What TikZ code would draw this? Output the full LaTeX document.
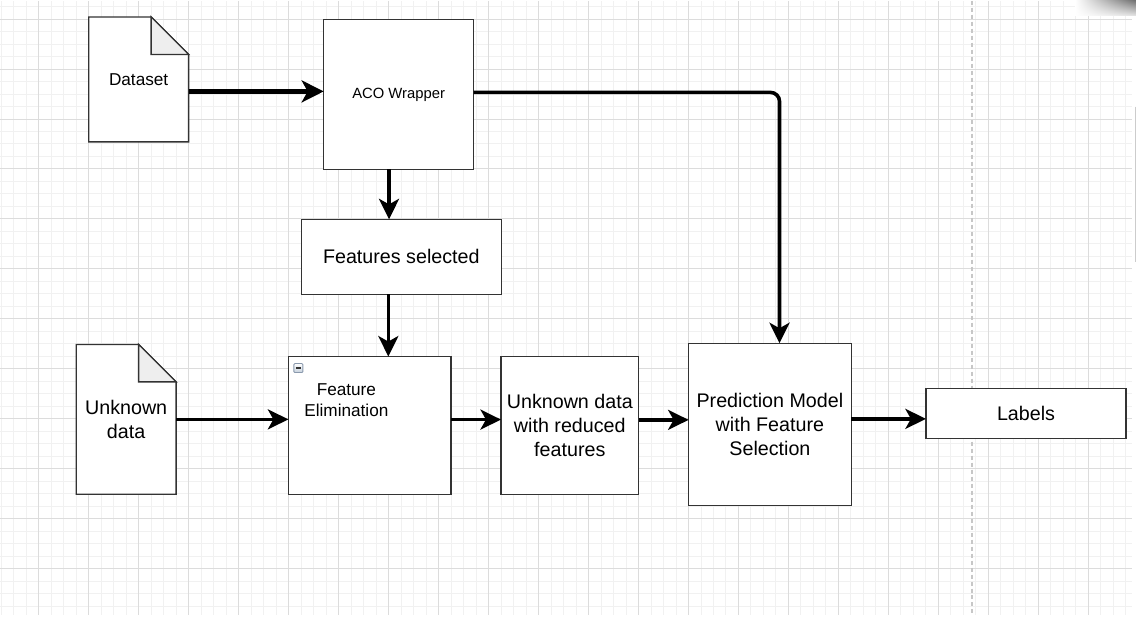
\documentclass[tikz,border=0pt]{standalone}
\usepackage{fontspec}
\setmainfont{Liberation Sans}
\usetikzlibrary{arrows.meta, positioning, backgrounds, shadings}
\definecolor{gridmajor}{HTML}{DCDCDC}
\definecolor{gridminor}{HTML}{F1F1F1}
\definecolor{boxline}{HTML}{333333}
\definecolor{foldgray}{HTML}{EEEEEE}
\definecolor{iconedge}{HTML}{8A99AD}
\definecolor{iconblue}{HTML}{C5D0DC}

\begin{document}
\begin{tikzpicture}[
            x = 1pt, y = -1pt, % pixel units, y grows downwards
            > = {Stealth[length=20.5pt, width=20pt, inset=5.5pt]}, % arrow head style
            shorten > = 0pt, % arrow head touches the box
            node distance = 50pt, % distance between boxes
            font = \fontsize{19.7}{23.7}\selectfont
        ]

        \tikzstyle{box}=[
            draw = boxline,
            line width = 1.3pt,
            fill = white,
            inner sep = 0pt,
            outer sep = 0pt,
            align = center
        ]
        \tikzstyle{doc}=[inner sep = 0pt, outer sep = 0pt, align = center]
        \tikzstyle{docline}=[draw = boxline, line width = 1.3pt, fill = white, line join = miter]
        \tikzstyle{flow}=[->, line width = 3.6pt]
        \tikzstyle{elimbtn}=[
            draw = iconedge,
            line width = 0.9pt,
            rounded corners = 1pt,
            minimum size = 9pt,
            inner sep = 0pt,
            top color = white,
            bottom color = iconblue,
            path picture = {\draw[line width=1.6pt, black!80]
                ([xshift=-2.6pt]path picture bounding box.center) --
                ([xshift=2.6pt]path picture bounding box.center);}
        ]

        % canvas grid
        \begin{scope}[on background layer]
            \fill[white] (0,0) rectangle (1136,615);
            \foreach \gx in {0.8, 13.3, ..., 1132} \draw[gridminor, line width=1pt] (\gx,0) -- (\gx,615);
            \foreach \gy in {5.8, 18.3, ..., 615} \draw[gridminor, line width=1pt] (0,\gy) -- (1132,\gy);
            \foreach \gx in {38.3, 88.3, ..., 1132} \draw[gridmajor, line width=1pt] (\gx,0) -- (\gx,615);
            \foreach \gy in {18.3, 68.3, ..., 615} \draw[gridmajor, line width=1pt] (0,\gy) -- (1132,\gy);
            \draw[black!22, line width=1.5pt, dash pattern=on 4pt off 3pt] (971.7,0) -- (971.7,615);
            \draw[black!20, line width=1pt] (1135,106) -- (1135,261);
            \shade[upper left=white, upper right=black!55, lower left=white, lower right=black!10]
                (1075,0) rectangle (1136,15);
        \end{scope}
        \useasboundingbox (0,0) rectangle (1136,615);

        \node[doc, minimum width=100pt, minimum height=125pt,
              font=\fontsize{17.2}{20.7}\selectfont] (dataset) at (138.2,78.7) {Dataset};
        \node[box, minimum width=150pt, minimum height=150pt,
              font=\fontsize{14.8}{17.5}\selectfont] (aco) at (398.3,93.7) {ACO Wrapper};
        \node[box, minimum width=200pt, minimum height=75pt] (selected)
              [below=of aco, xshift=2.7pt] {Features selected};

        \node[doc, minimum width=100pt, minimum height=150pt] (unknown) at (125.7,418.8) {Unknown\\data};
        \node[box, minimum width=162.7pt, minimum height=137.7pt,
              label={[font=\fontsize{17.2}{20.7}\selectfont, align=center,
                      xshift=-23.3pt, yshift=25.3pt]center:{Feature\\Elimination}}] (elim)
              [right=112.3pt of unknown, yshift=-6pt] {};
        \node[elimbtn] (elimbtn) at ([xshift=10pt, yshift=-11.5pt]elim.north west) {};
        \node[box, minimum width=137.7pt, minimum height=137.7pt] (reduced)
              [right=of elim] {Unknown data\\with reduced\\features};
        \node[box, minimum width=162.7pt, minimum height=162.3pt] (model)
              [right=of reduced, yshift=1pt] {Prediction Model\\with Feature\\Selection};
        \node[box, minimum width=200.3pt, minimum height=50pt] (labels)
              [right=74.7pt of model, yshift=11.1pt] {Labels};

        % folded-corner documents
        \begin{scope}[on background layer]
            \foreach \docname in {dataset, unknown} {
                \draw[docline] (\docname.north west) -- ([xshift=-37.5pt]\docname.north east)
                    -- ([yshift=-37.5pt]\docname.north east) |- (\docname.south west) -- cycle;
                \draw[docline, fill=foldgray] ([xshift=-37.5pt]\docname.north east)
                    |- ([yshift=-37.5pt]\docname.north east) -- cycle;
            }
        \end{scope}

        \draw[flow, line width=4.6pt, -{Stealth[length=22pt, width=22pt, inset=6pt]}]
            ([yshift=-12pt]dataset.east) -- ([yshift=-12pt]dataset.east -| aco.west);
        \draw[flow, rounded corners=9pt] ([yshift=2pt]aco.east) -| ([xshift=9.6pt]model.north);
        \draw[flow] ([xshift=-9.6pt]aco.south) -- ([xshift=-9.6pt]aco.south |- selected.north);
        \draw[flow] ([xshift=-13pt]selected.south) -- ([xshift=-13pt]selected.south |- elim.north);
        \draw[flow] (unknown.east) -- (unknown.east -| elim.west);
        \draw[flow] ([yshift=5.8pt]elim.east) -- ([yshift=5.8pt]elim.east -| reduced.west);
        \draw[flow] ([yshift=5.5pt]reduced.east) -- ([yshift=5.5pt]reduced.east -| model.west);
        \draw[flow] ([yshift=5.5pt]model.east) -- ([yshift=5.5pt]model.east -| labels.west);

    \end{tikzpicture}
\end{document}
